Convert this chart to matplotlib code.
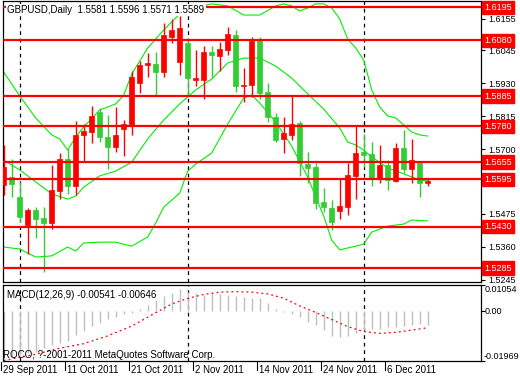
import matplotlib
matplotlib.use("Agg")
import matplotlib.pyplot as plt
import matplotlib.transforms as mtransforms

plt.rcParams['font.family'] = ['Liberation Sans', 'DejaVu Sans']

# ---- data ----
tick_bars = [0, 8, 16, 24, 32, 40, 48]
tick_labels = ['29 Sep 2011', '11 Oct 2011', '21 Oct 2011', '2 Nov 2011',
               '14 Nov 2011', '24 Nov 2011', '6 Dec 2011']
month_start_bars = [2, 23, 45]

opens = [1.5574, 1.5602, 1.5532, 1.5435, 1.5488, 1.5459, 1.5444, 1.5555, 1.5665, 1.5573,
         1.5751, 1.5760, 1.5830, 1.5744, 1.5709, 1.5769, 1.5782, 1.5930, 1.5995, 1.5997,
         1.5971, 1.6093, 1.6005, 1.6072, 1.5942, 1.5942, 1.6039, 1.6026, 1.6046, 1.6098,
         1.5921, 1.5924, 1.6083, 1.5900, 1.5811, 1.5736, 1.5750, 1.5790, 1.5649, 1.5638,
         1.5517, 1.5494, 1.5486, 1.5500, 1.5608, 1.5692, 1.5683, 1.5599, 1.5645, 1.5589,
         1.5704, 1.5630, 1.5653, 1.5581]
highs = [1.5715, 1.5665, 1.5587, 1.5494, 1.5497, 1.5500, 1.5645, 1.5686, 1.5700, 1.5800,
         1.5787, 1.5851, 1.5843, 1.5819, 1.5849, 1.5802, 1.5973, 1.6008, 1.6037, 1.6040,
         1.6142, 1.6153, 1.6165, 1.6087, 1.6046, 1.6061, 1.6060, 1.6075, 1.6128, 1.6116,
         1.5982, 1.6093, 1.6090, 1.5930, 1.5825, 1.5811, 1.5886, 1.5800, 1.5690, 1.5653,
         1.5564, 1.5523, 1.5595, 1.5653, 1.5781, 1.5753, 1.5726, 1.5715, 1.5662, 1.5723,
         1.5767, 1.5736, 1.5659, 1.5596]
lows = [1.5540, 1.5532, 1.5447, 1.5335, 1.5392, 1.5272, 1.5421, 1.5525, 1.5545, 1.5540,
        1.5657, 1.5721, 1.5726, 1.5630, 1.5692, 1.5678, 1.5751, 1.5897, 1.5953, 1.5887,
        1.5951, 1.6069, 1.5959, 1.5889, 1.5921, 1.5874, 1.5953, 1.5974, 1.6029, 1.5901,
        1.5866, 1.5883, 1.5875, 1.5796, 1.5726, 1.5688, 1.5732, 1.5608, 1.5581, 1.5492,
        1.5482, 1.5418, 1.5456, 1.5469, 1.5525, 1.5637, 1.5573, 1.5583, 1.5558, 1.5587,
        1.5616, 1.5583, 1.5535, 1.5571]
closes = [1.5639, 1.5580, 1.5462, 1.5488, 1.5458, 1.5442, 1.5558, 1.5666, 1.5573, 1.5750,
          1.5764, 1.5816, 1.5742, 1.5709, 1.5750, 1.5788, 1.5952, 1.5994, 1.6000, 1.5971,
          1.6099, 1.6116, 1.6123, 1.5950, 1.5948, 1.6039, 1.6029, 1.6050, 1.6102, 1.5921,
          1.5924, 1.6079, 1.5897, 1.5814, 1.5732, 1.5758, 1.5788, 1.5651, 1.5636, 1.5514,
          1.5497, 1.5447, 1.5502, 1.5610, 1.5686, 1.5680, 1.5596, 1.5645, 1.5593, 1.5703,
          1.5631, 1.5662, 1.5581, 1.5589]

upper_idx = [0, 2, 4, 6, 7, 8, 9, 10, 12, 14, 15, 16, 18, 20, 22, 24, 26, 28, 30, 32,
             34, 35, 36, 37, 38, 39, 40, 41, 42, 43, 44, 45, 46, 47, 48, 49, 50, 51, 52, 53]
upper_band = [1.5969, 1.5886, 1.5809, 1.5750, 1.5736, 1.5697, 1.5743, 1.5778, 1.5837, 1.5858,
              1.5889, 1.5962, 1.6053, 1.6116, 1.6172, 1.6196, 1.6207, 1.6200, 1.6168, 1.6168,
              1.6200, 1.6207, 1.6200, 1.6182, 1.6193, 1.6207, 1.6207, 1.6193, 1.6154, 1.6084,
              1.6053, 1.6011, 1.5907, 1.5847, 1.5816, 1.5809, 1.5785, 1.5760, 1.5750, 1.5746]

mid_idx = [0, 2, 4, 6, 8, 9, 10, 12, 14, 16, 18, 20, 22, 24, 26, 28, 30, 32, 34, 36,
           38, 40, 42, 43, 44, 45, 46, 48, 50, 52, 53]
mid_band = [1.5662, 1.5628, 1.5586, 1.5544, 1.5526, 1.5537, 1.5568, 1.5607, 1.5624, 1.5655,
            1.5736, 1.5802, 1.5858, 1.5907, 1.5945, 1.6001, 1.6018, 1.6018, 1.5990, 1.5948,
            1.5893, 1.5840, 1.5774, 1.5725, 1.5715, 1.5697, 1.5673, 1.5635, 1.5614, 1.5593,
            1.5589]

lower_idx = [0, 2, 4, 6, 8, 9, 10, 12, 14, 16, 18, 19, 20, 22, 23, 24, 26, 28, 30, 31,
             32, 34, 36, 38, 39, 40, 41, 42, 44, 45, 46, 48, 50, 51, 53]
lower_band = [1.5359, 1.5352, 1.5324, 1.5328, 1.5359, 1.5345, 1.5373, 1.5376, 1.5376, 1.5362,
              1.5394, 1.5443, 1.5498, 1.5547, 1.5624, 1.5648, 1.5687, 1.5788, 1.5879, 1.5889,
              1.5861, 1.5795, 1.5711, 1.5603, 1.5533, 1.5467, 1.5383, 1.5349, 1.5362, 1.5369,
              1.5411, 1.5432, 1.5439, 1.5453, 1.5450]

red_levels = [1.6195, 1.6080, 1.5885, 1.5780, 1.5655, 1.5595, 1.5430, 1.5285]
scale_levels = [1.6155, 1.6045, 1.5930, 1.5815, 1.5700, 1.5475, 1.5360, 1.5245]

macd_hist = [-0.0186, -0.0182, -0.0173, -0.0166, -0.0160, -0.0146, -0.0133, -0.0124, -0.0116, -0.0093,
             -0.0078, -0.0058, -0.0047, -0.0031, -0.0021, -0.0011, -0.0005, 0.0009, 0.0026, 0.0046,
             0.0062, 0.0075, 0.0088, 0.0079, 0.0072, 0.0066, 0.0072, 0.0070, 0.0066, 0.0062,
             0.0059, 0.0052, 0.0052, 0.0033, 0.0009, -0.0002, -0.0010, -0.0023, -0.0040, -0.0054,
             -0.0074, -0.0096, -0.0100, -0.0096, -0.0087, -0.0074, -0.0071, -0.0071, -0.0063, -0.0060,
             -0.0056, -0.0054, -0.0051, -0.00541]
signal_idx = [0, 4, 7, 10, 13, 16, 19, 21, 23, 25, 27, 29, 31, 33, 35, 37, 39, 41, 43, 45,
              47, 49, 51, 53]
signal = [-0.0195, -0.0170, -0.0146, -0.0128, -0.0097, -0.0058, -0.0005, 0.0030, 0.0052, 0.0068,
          0.0077, 0.0079, 0.0077, 0.0070, 0.0053, 0.0022, -0.0004, -0.0032, -0.0060, -0.0080,
          -0.0087, -0.0083, -0.0074, -0.00646]
macd_labels = [0.01054, 0.0, -0.01969]

BULL = '#ff0000'
BEAR = '#32cd32'
BAND = '#00ee00'
FS = 7      # text inside the panels and dates
FS_R = 6.5  # right-hand scale
W, H = 520, 380


def frame(x0, y0, x1, y1):
    return [x0 / W, 1 - y1 / H, (x1 - x0) / W, (y1 - y0) / H]


fig = plt.figure(figsize=(W / 100, H / 100), dpi=100)
ax = fig.add_axes(frame(3, 1, 481, 282))
ax2 = fig.add_axes(frame(3, 285, 481, 361), sharex=ax)

n = len(closes)
xs = list(range(n))

# candles
for i in xs:
    o, h, l, c = opens[i], highs[i], lows[i], closes[i]
    col = BULL if c >= o else BEAR
    ax.vlines(i, l, h, color=col, lw=1, zorder=3)
    ax.bar(i, max(abs(c - o), 0.00004), bottom=min(o, c), width=0.62,
           color=col, edgecolor=col, lw=0.5, zorder=4)

ax.plot(upper_idx, upper_band, color=BAND, lw=0.8, zorder=2)
ax.plot(mid_idx, mid_band, color=BAND, lw=0.8, zorder=2)
ax.plot(lower_idx, lower_band, color=BAND, lw=0.8, zorder=2)

for lv in red_levels:
    ax.axhline(lv, color='#ff0000', lw=1.6, zorder=5)

for b in month_start_bars:
    ax.axvline(b, color='black', lw=0.9, ls=(0, (3, 3)), zorder=1)
    ax2.axvline(b, color='black', lw=0.9, ls=(0, (3, 3)), zorder=1)

ax.set_xlim(-0.09, 59.66)
ax.set_ylim(1.5237, 1.6217)

# right price scale
ax.yaxis.tick_right()
ax.set_yticks(scale_levels)
ax.set_yticklabels(['%.4f' % v for v in scale_levels])
ax.tick_params(axis='y', length=3, width=0.8, pad=2, labelsize=FS_R)
ax.tick_params(axis='x', length=0, labelbottom=False)
trans = mtransforms.blended_transform_factory(ax.transAxes, ax.transData)
for lv in red_levels:
    ax.text(1.0075, lv, '%.4f' % lv, transform=trans, color='white', fontsize=FS_R,
            va='center', ha='left', clip_on=False, zorder=6,
            bbox=dict(boxstyle='square,pad=0.25', fc='#ff0000', ec='#ff0000'))

fig.text(7 / W, 1 - 10 / H, 'GBPUSD,Daily  1.5581 1.5596 1.5571 1.5589', fontsize=FS,
         va='center', ha='left', color='black',
         bbox=dict(boxstyle='square,pad=0.15', fc='white', ec='none'), zorder=10)

# MACD panel
ax2.vlines(xs, 0, macd_hist, color='#c0c0c0', lw=1.0)
ax2.plot(signal_idx, signal, color='#ff0000', lw=0.9, ls=(0, (1.5, 2.5)))
ax2.set_ylim(-0.01969, 0.01054)
ax2.yaxis.tick_right()
ax2.set_yticks(macd_labels)
ax2.set_yticklabels([])
ax2.tick_params(axis='y', length=3, width=0.8)
ax2.tick_params(axis='x', length=0, labelbottom=False)
trans2 = mtransforms.blended_transform_factory(ax2.transAxes, ax2.transData)
ax2.text(1.0075, macd_labels[0], '0.01054', transform=trans2, fontsize=FS_R, va='top', ha='left')
ax2.text(1.0075, macd_labels[1], '0.00', transform=trans2, fontsize=FS_R, va='center', ha='left')
ax2.text(1.0045, macd_labels[2], '-0.01969', transform=trans2, fontsize=FS_R, va='bottom', ha='left')
ax2.text(4 / 478, 0.87, 'MACD(12,26,9) -0.00541 -0.00646', transform=ax2.transAxes,
         fontsize=FS, va='center', ha='left')
ax2.text(0.0, 0.08, 'ROCO, ?-2001-2011 MetaQuotes Software Corp.', transform=ax2.transAxes,
         fontsize=FS, va='center', ha='left')

# date scale under MACD panel
transd = mtransforms.blended_transform_factory(ax2.transData, fig.transFigure)
for b, lab in zip(tick_bars, tick_labels):
    fig.add_artist(plt.Line2D([b - 0.35, b - 0.35], [1 - 362 / H, 1 - 370 / H],
                              transform=transd, color='black', lw=0.8))
    fig.text(b - 0.1, 1 - 370 / H, lab, transform=transd, fontsize=FS,
             va='center', ha='left')

for a in (ax, ax2):
    for s in a.spines.values():
        s.set_linewidth(0.9)
        s.set_color('black')

fig.savefig('out.png', dpi=100)
